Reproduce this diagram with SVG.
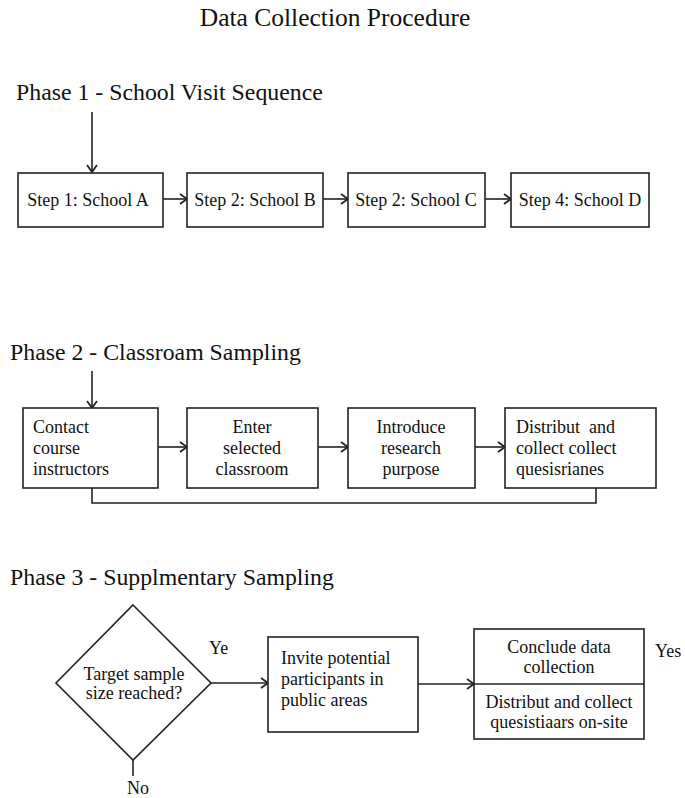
<svg xmlns="http://www.w3.org/2000/svg" width="685" height="798" viewBox="0 0 685 798">
<defs>
<style>
text{font-family:"Liberation Serif","Times New Roman",serif;fill:#111}
.ttl{font-size:25.5px}
.h{font-size:23.8px}
.t{font-size:18px}
.box{fill:#fff;stroke:#222;stroke-width:1.6}
.ln{fill:none;stroke:#222;stroke-width:1.6}
</style>
<marker id="ah" markerWidth="12" markerHeight="12" refX="10" refY="6" orient="auto" markerUnits="userSpaceOnUse">
<path d="M3,1 L10,6 L3,11" fill="none" stroke="#222" stroke-width="1.8"/>
</marker>
</defs>
<rect width="685" height="798" fill="#fff"/>
<text class="ttl" x="335" y="26" text-anchor="middle">Data Collection Procedure</text>
<text class="h" x="16" y="100">Phase 1 - School Visit Sequence</text>
<text class="h" x="10" y="360">Phase 2 - Classroam Sampling</text>
<text class="h" x="10" y="585">Phase 3 - Supplmentary Sampling</text>

<g id="connectors">
<line class="ln" x1="92" y1="112" x2="92" y2="172" marker-end="url(#ah)"/>
<line class="ln" x1="163" y1="199" x2="187" y2="199" marker-end="url(#ah)"/>
<line class="ln" x1="323" y1="199" x2="348" y2="199" marker-end="url(#ah)"/>
<line class="ln" x1="485" y1="199" x2="511" y2="199" marker-end="url(#ah)"/>
<line class="ln" x1="92" y1="371" x2="92" y2="408" marker-end="url(#ah)"/>
<line class="ln" x1="158" y1="447" x2="187" y2="447" marker-end="url(#ah)"/>
<line class="ln" x1="318" y1="447" x2="348" y2="447" marker-end="url(#ah)"/>
<line class="ln" x1="475" y1="447" x2="505" y2="447" marker-end="url(#ah)"/>
<polyline class="ln" points="92,488 92,503 596,503 596,488"/>
<line class="ln" x1="211" y1="683" x2="268" y2="683" marker-end="url(#ah)"/>
<line class="ln" x1="418" y1="684" x2="474" y2="684" marker-end="url(#ah)"/>
<line class="ln" x1="133" y1="760" x2="133" y2="776"/>
<text class="t" x="209" y="654">Ye</text>
<text class="t" x="655" y="657">Yes</text>
<text class="t" x="138" y="794" text-anchor="middle">No</text>
</g>

<g id="p1s1"><rect class="box" x="18" y="173" width="145" height="54"/><text class="t" x="88" y="206" text-anchor="middle">Step 1: School A</text></g>
<g id="p1s2"><rect class="box" x="187" y="173" width="136" height="54"/><text class="t" x="255" y="206" text-anchor="middle">Step 2: School B</text></g>
<g id="p1s3"><rect class="box" x="348" y="173" width="137" height="54"/><text class="t" x="416" y="206" text-anchor="middle">Step 2: School C</text></g>
<g id="p1s4"><rect class="box" x="511" y="173" width="138" height="54"/><text class="t" x="580" y="206" text-anchor="middle">Step 4: School D</text></g>

<g id="p2s1"><rect class="box" x="23" y="408" width="135" height="80"/><text class="t" x="33" y="433">Contact</text><text class="t" x="33" y="454">course</text><text class="t" x="33" y="475">instructors</text></g>
<g id="p2s2"><rect class="box" x="187" y="408" width="131" height="80"/><text class="t" x="252" y="433" text-anchor="middle">Enter</text><text class="t" x="252" y="454" text-anchor="middle">selected</text><text class="t" x="252" y="475" text-anchor="middle">classroom</text></g>
<g id="p2s3"><rect class="box" x="348" y="408" width="127" height="80"/><text class="t" x="411" y="433" text-anchor="middle">Introduce</text><text class="t" x="411" y="454" text-anchor="middle">research</text><text class="t" x="411" y="475" text-anchor="middle">purpose</text></g>
<g id="p2s4"><rect class="box" x="505" y="408" width="151" height="80"/><text class="t" x="516" y="433" xml:space="preserve">Distribut  and</text><text class="t" x="516" y="454">collect collect</text><text class="t" x="516" y="475">quesisrianes</text></g>

<g id="p3d"><polygon class="box" points="133,605 211,683 133,760 56,683"/><text class="t" x="134" y="680" text-anchor="middle">Target sample</text><text class="t" x="134" y="699" text-anchor="middle">size reached?</text></g>
<g id="p3b1"><rect class="box" x="268" y="637" width="150" height="95"/><text class="t" x="281" y="664">Invite potential</text><text class="t" x="281" y="685">participants in</text><text class="t" x="281" y="706">public areas</text></g>
<g id="p3b2"><rect class="box" x="474" y="629" width="170" height="110"/><line class="ln" x1="474" y1="684" x2="644" y2="684"/><text class="t" x="559" y="653" text-anchor="middle">Conclude data</text><text class="t" x="559" y="673" text-anchor="middle">collection</text><text class="t" x="559" y="708" text-anchor="middle">Distribut and collect</text><text class="t" x="559" y="728" text-anchor="middle">quesistiaars on-site</text></g>
</svg>
